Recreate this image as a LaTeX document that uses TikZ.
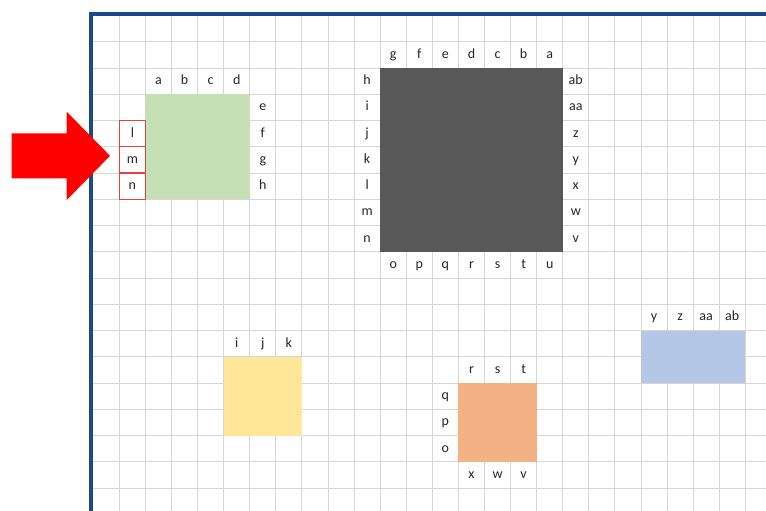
\documentclass[tikz,border=0pt]{standalone}
\usepackage{fontspec}
\setmainfont{Carlito}
\definecolor{gridgray}{RGB}{214,214,214}
\definecolor{frameblue}{RGB}{30,72,140}
\definecolor{boxgreen}{RGB}{197,224,180}
\definecolor{boxdark}{RGB}{89,89,89}
\definecolor{boxyellow}{RGB}{255,230,153}
\definecolor{boxorange}{RGB}{244,177,131}
\definecolor{boxblue}{RGB}{180,199,231}
\definecolor{labeltext}{RGB}{38,38,38}
\definecolor{arrowred}{RGB}{255,0,0}
\definecolor{cellred}{RGB}{232,64,64}
\begin{document}
\begin{tikzpicture}[x=26.08pt,y=-26.25pt,
  lbl/.style={font=\fontsize{14}{14}\selectfont, text=labeltext, inner sep=0pt,
              text height=0.7em, text depth=0pt, anchor=center},
  gridline/.style={draw=gridgray, line width=0.9pt},
  redcell/.style={draw=cellred, line width=1.2pt},
  frame/.style={draw=frameblue, line width=4pt, line join=miter}]
\useasboundingbox (-3.5775,-0.5905) rectangle (25.794,18.876);
\begin{scope}
  \clip (-3.5775,-0.5905) rectangle (25.794,18.876);
  % grid
  \foreach \i in {1,...,25} \draw[gridline] (\i,-0.1) -- (\i,19);
  \foreach \j in {1,...,18} \draw[gridline] (-0.1,\j) -- (26,\j);
  % coloured blocks
  \fill[boxgreen]  (2,3)  rectangle (6,7);
  \fill[boxdark]   (11,2) rectangle (18,9);
  \fill[boxyellow] (5,13) rectangle (8,16);
  \fill[boxorange] (14,14) rectangle (17,17);
  \fill[boxblue]   (21,12) rectangle (25,14);
  % red outlined cells
  \foreach \j in {4,5,6} \draw[redcell] (1,\j) rectangle (2,\j+1);
  % frame
  \draw[frame] (-0.107,19.5) -- (-0.107,-0.069) -- (26.5,-0.069);
  % red arrow
  \fill[arrowred] (-3.129,4.488) -- (-1.020,4.488) -- (-1.020,3.665) -- (0.640,5.345)
     -- (-1.020,7.029) -- (-1.020,6.202) -- (-3.129,6.202) -- cycle;
\end{scope}
% labels: green block
\foreach \t [count=\k from 0] in {a,b,c,d} \node[lbl] (gt\k) at (2.5+\k,2.5) {\t};
\foreach \t [count=\k from 0] in {e,f,g,h} \node[lbl] (gr\k) at (6.5,3.5+\k) {\t};
\foreach \t [count=\k from 0] in {l,m,n} \node[lbl] (gl\k) at (1.5,4.5+\k) {\t};
% dark block
\foreach \t [count=\k from 0] in {g,f,e,d,c,b,a} \node[lbl] (dt\k) at (11.5+\k,1.5) {\t};
\foreach \t [count=\k from 0] in {h,i,j,k,l,m,n} \node[lbl] (dl\k) at (10.5,2.5+\k) {\t};
\foreach \t [count=\k from 0] in {ab,aa,z,y,x,w,v} \node[lbl] (dr\k) at (18.5,2.5+\k) {\t};
\foreach \t [count=\k from 0] in {o,p,q,r,s,t,u} \node[lbl] (db\k) at (11.5+\k,9.5) {\t};
% yellow block
\foreach \t [count=\k from 0] in {i,j,k} \node[lbl] (yt\k) at (5.5+\k,12.5) {\t};
% orange block
\foreach \t [count=\k from 0] in {r,s,t} \node[lbl] (ot\k) at (14.5+\k,13.5) {\t};
\foreach \t [count=\k from 0] in {q,p,o} \node[lbl] (ol\k) at (13.5,14.5+\k) {\t};
\foreach \t [count=\k from 0] in {x,w,v} \node[lbl] (ob\k) at (14.5+\k,17.5) {\t};
% blue block
\foreach \t [count=\k from 0] in {y,z,aa,ab} \node[lbl] (bt\k) at (21.5+\k,11.5) {\t};
\end{tikzpicture}
\end{document}
